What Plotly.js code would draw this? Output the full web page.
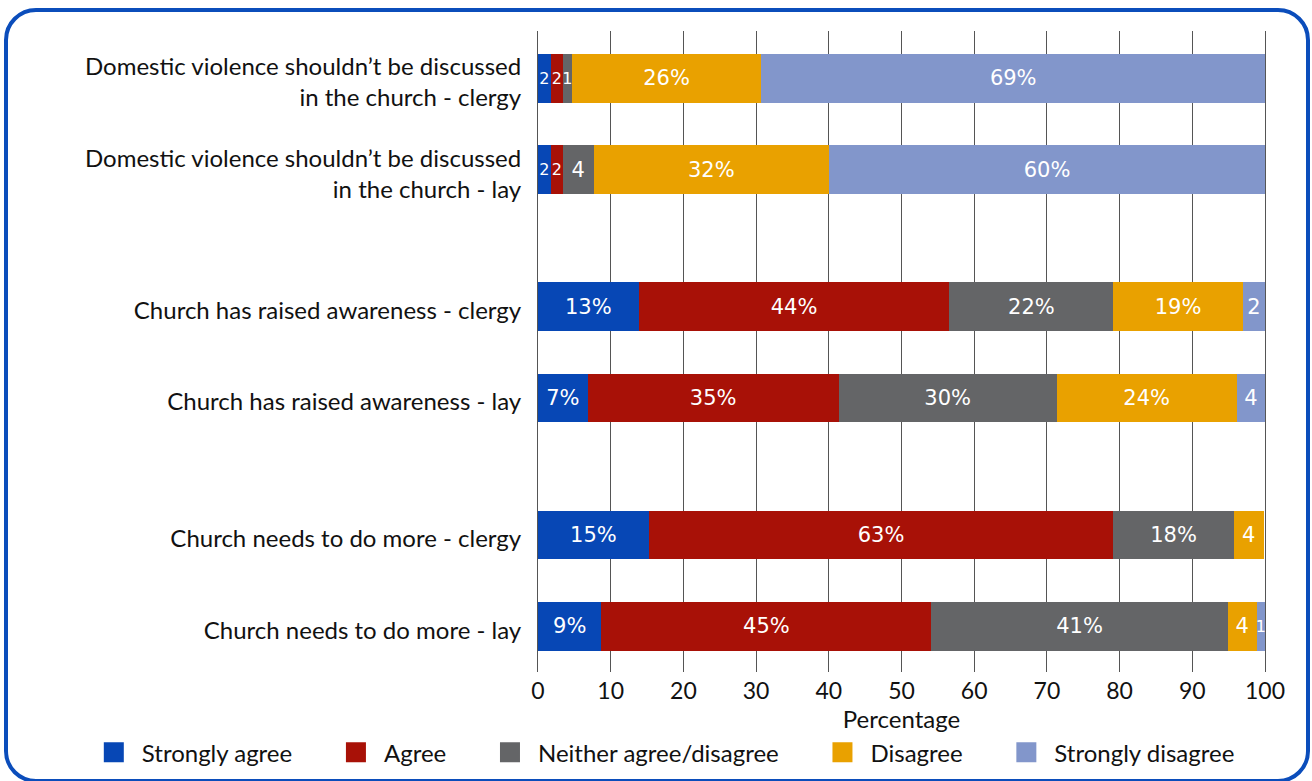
<!DOCTYPE html>
<html><head><meta charset="utf-8">
<script src="https://cdn.plot.ly/plotly-3.0.1.min.js"></script>
<style>
html,body{margin:0;padding:0;background:#fff;}
#wrap{position:relative;width:1312px;height:781px;overflow:hidden;background:#fff;}
#frame{position:absolute;left:4px;top:8px;width:1298px;height:767px;border:4px solid #0b4dbb;border-radius:32px;pointer-events:none;}
#chart{position:absolute;left:0;top:0;width:1312px;height:781px;}
</style></head><body>
<div id="wrap"><div id="frame"></div><div id="chart"></div></div>
<script>
// Row labels (top to bottom)
const categories = [
  "Domestic violence shouldn\u2019t be discussed<br>in the church - clergy",
  "Domestic violence shouldn\u2019t be discussed<br>in the church - lay",
  "Church has raised awareness - clergy",
  "Church has raised awareness - lay",
  "Church needs to do more - clergy",
  "Church needs to do more - lay"
];
// Row slots on the category axis (groups separated by empty slots)
const rowPos = [0, 2, 5, 7, 10, 12];

const seriesNames = ["Strongly agree", "Agree", "Neither agree/disagree", "Disagree", "Strongly disagree"];
const seriesColors = ["#0747b5", "#a81107", "#646567", "#e9a100", "#8296cb"];

// Percentages
const stronglyAgree    = [1.75, 1.75, 13.85, 6.84, 15.23, 8.72];
const agree            = [1.65, 1.65, 42.74, 34.52, 63.92, 45.39];
const neither          = [1.24, 4.26, 22.56, 29.99, 16.55, 40.76];
const disagree         = [26.10, 32.37, 17.78, 24.75, 4.10, 3.99];
const stronglyDisagree = [69.26, 59.97, 3.07, 3.90, 0, 1.14];

// Printed segment labels
const stronglyAgreeLabels    = ["2", "2", "13%", "7%", "15%", "9%"];
const agreeLabels            = ["2", "2", "44%", "35%", "63%", "45%"];
const neitherLabels          = ["1", "4", "22%", "30%", "18%", "41%"];
const disagreeLabels         = ["26%", "32%", "19%", "24%", "4", "4"];
const stronglyDisagreeLabels = ["69%", "60%", "2", "4", "", "1"];

const xTicks = [0, 10, 20, 30, 40, 50, 60, 70, 80, 90, 100];

const seriesValues = [stronglyAgree, agree, neither, disagree, stronglyDisagree];
const seriesLabels = [stronglyAgreeLabels, agreeLabels, neitherLabels, disagreeLabels, stronglyDisagreeLabels];

const pad = "\u00a0\u00a0\u00a0\u00a0\u00a0";
const traces = seriesNames.map((name, i) => ({
  type: "bar",
  orientation: "h",
  name: name + (i < seriesNames.length - 1 ? pad : ""),
  x: seriesValues[i],
  y: rowPos,
  width: 1.07,
  marker: { color: seriesColors[i], line: { width: 0 } },
  text: seriesLabels[i],
  textposition: "inside",
  insidetextanchor: "middle",
  textangle: 0,
  constraintext: "none",
  textfont: {
    family: "DejaVu Sans, Open Sans, sans-serif",
    size: seriesValues[i].map(v => (v < 2 ? 16 : 21)),
    color: "#ffffff"
  },
  cliponaxis: false,
  hoverinfo: "skip"
}));

const layout = {
  width: 1312, height: 781,
  paper_bgcolor: "rgba(0,0,0,0)",
  plot_bgcolor: "rgba(0,0,0,0)",
  barmode: "stack",
  margin: { l: 538, r: 47, t: 31, b: 109, pad: 0, autoexpand: false },
  font: { family: "Lato, sans-serif", color: "#111" },
  showlegend: true,
  legend: {
    orientation: "h",
    x: -0.622, xanchor: "left",
    y: -0.126, yanchor: "middle",
    font: { family: "Lato, sans-serif", size: 24, color: "#111" },
    itemwidth: 46,
    traceorder: "normal",
    bgcolor: "rgba(0,0,0,0)"
  },
  xaxis: {
    range: [0, 100],
    tickvals: xTicks,
    ticktext: xTicks.map(String),
    showgrid: true, gridcolor: "#555", gridwidth: 1,
    zeroline: false,
    showline: false,
    ticks: "",
    ticklabelstandoff: 3,
    tickfont: { family: "Lato, sans-serif", size: 23, color: "#111" },
    title: { text: "Percentage", font: { family: "Lato, sans-serif", size: 24, color: "#111" }, standoff: 0 },
    fixedrange: true,
    automargin: false
  },
  yaxis: {
    range: [13, -1.04],
    tickvals: rowPos,
    ticktext: categories,
    showgrid: false, zeroline: false,
    showline: true, mirror: true, linecolor: "#555", linewidth: 1,
    ticks: "",
    ticklabelstandoff: 11,
    ticklabelshift: -4,
    tickfont: { family: "Lato, sans-serif", size: 24, color: "#111" },
    fixedrange: true,
    automargin: false
  }
};

Plotly.newPlot("chart", traces, layout, { displayModeBar: false, staticPlot: true }).then(() => {
  document.querySelectorAll("#chart .legend .legendpoints path").forEach(p => {
    p.setAttribute("d", "M10,10H-10V-10H10Z");
  });
});
</script>
</body></html>
